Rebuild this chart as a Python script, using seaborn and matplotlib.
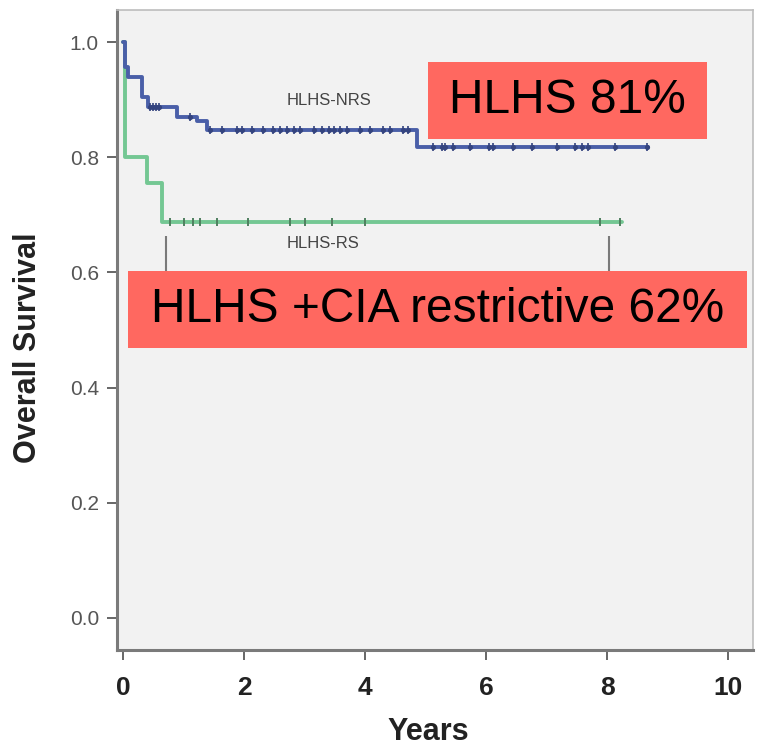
import numpy as np
import pandas as pd
import matplotlib
matplotlib.use("Agg")
import matplotlib.pyplot as plt
from matplotlib.patches import Rectangle
import seaborn as sns

# Kaplan-Meier step curves (time in years, cumulative survival)
nrs_times = [0.0, 0.03, 0.09, 0.31, 0.42, 0.89, 1.22, 1.38, 4.85, 8.68]
nrs_surv = [1.0, 0.957, 0.940, 0.905, 0.888, 0.870, 0.863, 0.847, 0.818, 0.818]
rs_times = [0.0, 0.03, 0.39, 0.64, 8.24]
rs_surv = [1.0, 0.800, 0.755, 0.688, 0.688]

# Censored observations
nrs_censor = [0.45, 0.50, 0.55, 0.60, 1.10, 1.44, 1.63, 1.88, 1.96, 2.13, 2.32,
              2.48, 2.60, 2.71, 2.82, 2.93, 3.15, 3.29, 3.40, 3.48, 3.59, 3.70,
              3.92, 4.08, 4.30, 4.41, 4.63, 4.71, 5.13, 5.27, 5.32, 5.46, 5.74,
              6.04, 6.12, 6.45, 6.75, 7.17, 7.47, 7.58, 7.69, 8.13, 8.66]
rs_censor = [0.78, 1.00, 1.16, 1.27, 1.55, 2.07, 2.76, 3.00, 3.45, 4.00, 7.88, 8.21]

group_labels = ["HLHS-NRS", "HLHS-RS"]
callout_texts = ["HLHS 81%", "HLHS +CIA restrictive 62%"]
x_ticks = [0, 2, 4, 6, 8, 10]
y_ticks = [0.0, 0.2, 0.4, 0.6, 0.8, 1.0]

blue = "#4A5FA8"
blue_dark = "#34447F"
green = "#74C793"
green_dark = "#4F7F5F"

sns.set_theme(style="white")
plt.rcParams["font.family"] = ["Liberation Sans", "DejaVu Sans"]

W, H = 757, 748
fig = plt.figure(figsize=(W / 100, H / 100), dpi=100)
ax = fig.add_axes([117 / W, 1 - 650 / H, (753 - 117) / W, (650 - 10) / H])
ax.set_facecolor("#F2F2F2")


def step_at(times, surv, t):
    idx = np.searchsorted(np.asarray(times), np.asarray(t), side="right") - 1
    return np.asarray(surv)[idx]


curves = pd.concat([
    pd.DataFrame({"time": nrs_times, "surv": nrs_surv, "group": group_labels[0]}),
    pd.DataFrame({"time": rs_times, "surv": rs_surv, "group": group_labels[1]}),
])
censors = pd.concat([
    pd.DataFrame({"time": nrs_censor,
                  "surv": step_at(nrs_times, nrs_surv, nrs_censor),
                  "group": group_labels[0]}),
    pd.DataFrame({"time": rs_censor,
                  "surv": step_at(rs_times, rs_surv, rs_censor),
                  "group": group_labels[1]}),
])

sns.lineplot(data=curves[curves.group == group_labels[1]], x="time", y="surv",
             color=green, lw=2.8, drawstyle="steps-post", estimator=None,
             sort=False, ax=ax, legend=False, zorder=3)
sns.lineplot(data=curves[curves.group == group_labels[0]], x="time", y="surv",
             color=blue, lw=2.8, drawstyle="steps-post", estimator=None,
             sort=False, ax=ax, legend=False, zorder=4)
sns.scatterplot(data=censors[censors.group == group_labels[0]], x="time", y="surv",
                marker="o", s=14, linewidth=0, color=blue_dark, ax=ax,
                legend=False, zorder=5)
sns.scatterplot(data=censors[censors.group == group_labels[0]], x="time", y="surv",
                marker="|", s=30, linewidth=1.2, color=blue_dark, ax=ax,
                legend=False, zorder=5)
sns.scatterplot(data=censors[censors.group == group_labels[1]], x="time", y="surv",
                marker="|", s=28, linewidth=1.4, color=green_dark, ax=ax,
                legend=False, zorder=5)

# leader lines for the lower group label
ax.vlines([0.71, 8.03], 0.58, 0.663, color="#7A7A7A", lw=1.5, zorder=2)

ax.text(3.4, 0.898, group_labels[0], ha="center", va="center",
        fontsize=12, color="#444444", zorder=6)
ax.text(3.3, 0.650, group_labels[1], ha="center", va="center",
        fontsize=12, color="#444444", zorder=6)

ax.set_xlim(-0.1, 10.41)
ax.set_ylim(-0.056, 1.056)
ax.set_xticks(x_ticks)
ax.set_xticklabels([str(v) for v in x_ticks], fontsize=19, fontweight="bold",
                   color="#222222")
ax.set_yticks(y_ticks)
ax.set_yticklabels([f"{v:.1f}" for v in y_ticks], fontsize=15, color="#555555")
ax.tick_params(axis="both", which="both", direction="out", length=7, width=1.4,
               color="#666666", left=True, bottom=True)
ax.tick_params(axis="x", pad=12)
ax.tick_params(axis="y", pad=6)
ax.set_xlabel("Years", fontsize=22, fontweight="bold", color="#222222")
ax.set_ylabel("Overall Survival", fontsize=22, fontweight="bold", color="#222222")
ax.xaxis.set_label_coords(0.49, -0.104)
ax.yaxis.set_label_coords(-0.117, 0.473)

for side in ["left", "bottom"]:
    ax.spines[side].set_color("#7A7A7A")
    ax.spines[side].set_linewidth(2.2)
for side in ["top", "right"]:
    ax.spines[side].set_color("#BDBDBD")
    ax.spines[side].set_linewidth(1.2)

# red call-out boxes with their captions
boxes = [(428, 62, 707, 139), (128, 271, 747, 348)]
for (x0, y0, x1, y1), txt in zip(boxes, callout_texts):
    fig.add_artist(Rectangle((x0 / W, 1 - y1 / H), (x1 - x0) / W, (y1 - y0) / H,
                             transform=fig.transFigure, facecolor="#FF6860",
                             edgecolor="none", zorder=10))
    fig.text((x0 + x1) / 2 / W, 1 - (y0 + y1) / 2 / H, txt, ha="center",
             va="center", fontsize=34.5, color="black", zorder=11)

fig.savefig("out.png", dpi=100, facecolor="white")
